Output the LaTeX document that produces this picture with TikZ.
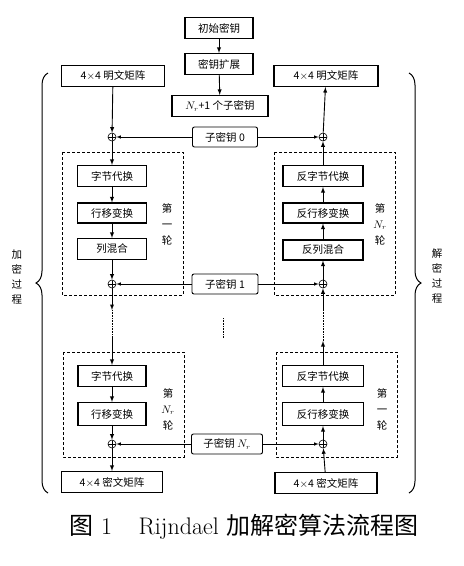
\documentclass[tikz,border=0pt]{standalone}
\usepackage{fontspec}
\newfontfamily\cjk{Noto Sans CJK SC}
\usepackage{tikz}
\usetikzlibrary{shapes}
\usetikzlibrary{decorations,decorations.pathreplacing}
\usetikzlibrary{fit,calc}

\tikzset{
	box/.style={draw, line width=1.1pt, minimum height=21, inner sep=1pt,
		font=\cjk\fontsize{10.5}{12}\selectfont},
	keybox/.style={box, rounded corners=2pt, line width=0.9pt},
	xor/.style={circle, draw, line width=0.6pt, minimum size=8, inner sep=0pt,
		path picture={\draw (path picture bounding box.north) -- (path picture bounding box.south)
			(path picture bounding box.east) -- (path picture bounding box.west);}},
	stage/.style={draw, densely dashed, line width=0.8pt},
	flow/.style={-latex, line width=0.9pt},
	keyline/.style={-latex, line width=0.6pt},
	vlabel/.style={align=center, font=\cjk\fontsize{10.5}{16}\selectfont},
}

\begin{document}
\begin{tikzpicture}[x=1pt,y=-1pt]
\useasboundingbox (0,0) rectangle (464,566);

% key schedule
\node[box, minimum width=68] (init) at (219,28) {初始密钥};
\node[box, minimum width=68] (expand) at (219,64) {密钥扩展};
\node[box, minimum width=96] (subkeys) at (220,106) {$N_r$+1 个子密钥};
\draw[flow] (init) -- (expand);
\draw[flow] (expand) -- (subkeys);

% plain text / cipher text
\node[box, minimum width=103] (plainL) at (113,76) {4$\times$4 明文矩阵};
\node[box, minimum width=104] (plainR) at (326,76) {4$\times$4 明文矩阵};
\node[box, minimum width=101] (cipherL) at (112,482) {4$\times$4 密文矩阵};
\node[box, minimum width=102] (cipherR) at (326,483) {4$\times$4 密文矩阵};

% round keys
\node[keybox, minimum width=65, minimum height=20] (key0) at (225,137) {子密钥 0};
\node[keybox, minimum width=66, minimum height=20] (key1) at (225,284) {子密钥 1};
\node[keybox, minimum width=71, minimum height=20] (keyN) at (227,444) {子密钥 $N_r$};

\foreach \row/\y in {0/137,1/284,N/444} {
	\node[xor] (xorL\row) at (112,\y) {};
	\node[xor] (xorR\row) at (323,\y) {};
	\draw[keyline] (key\row) -- (xorL\row);
	\draw[keyline] (key\row) -- (xorR\row);
}

% rounds
\draw[stage] (62,152) rectangle (183,295);
\draw[stage] (274,152) rectangle (395,295);
\draw[stage] (63,352) rectangle (184,457);
\draw[stage] (276,352) rectangle (397,457);

\node[box, minimum width=69] (subL) at (112,176) {字节代换};
\node[box, minimum width=69, minimum height=20] (shiftL) at (112,213) {行移变换};
\node[box, minimum width=69] (mixL) at (112,249) {列混合};
\node[box, minimum width=68] (subL2) at (112,376) {字节代换};
\node[box, minimum width=68, minimum height=23] (shiftL2) at (112,414) {行移变换};

\node[box, minimum width=80] (isubR) at (323,176) {反字节代换};
\node[box, minimum width=80, minimum height=20] (ishiftR) at (323,213) {反行移变换};
\node[box, minimum width=80, minimum height=20] (imixR) at (323,250) {反列混合};
\node[box, minimum width=81] (isubR2) at (323,376) {反字节代换};
\node[box, minimum width=81, minimum height=23] (ishiftR2) at (323,414) {反行移变换};

\node[vlabel] (roundL1) at (167,224) {第\\一\\轮};
\node[vlabel] (roundR1) at (380,224) {第\\$N_r$\\轮};
\node[vlabel] (roundL2) at (168,409) {第\\$N_r$\\轮};
\node[vlabel] (roundR2) at (382,409) {第\\一\\轮};

% encryption, top to bottom
\coordinate (gapL1) at (112,310);
\coordinate (gapL2) at (112,338);
\foreach \a/\b in {plainL/xorL0, xorL0/subL, subL/shiftL, shiftL/mixL, mixL/xorL1,
	xorL1/gapL1, gapL2/subL2, subL2/shiftL2, shiftL2/xorLN, xorLN/cipherL}
	\draw[flow] (\a) -- (\b);
\draw[densely dotted, line width=0.6pt] (gapL1) -- (gapL2);

% decryption, bottom to top
\coordinate (gapR1) at (323,310);
\coordinate (gapR2) at (323,341);
\foreach \a/\b in {cipherR/xorRN, xorRN/ishiftR2, ishiftR2/isubR2, isubR2/gapR2,
	gapR1/xorR1, xorR1/imixR, imixR/ishiftR, ishiftR/isubR, isubR/xorR0, xorR0/plainR}
	\draw[flow] (\a) -- (\b);
\draw[densely dotted, line width=0.6pt] (gapR2) -- (gapR1);

\coordinate (dotsA) at (223,318);
\coordinate (dotsB) at (223,338);
\draw[densely dotted, line width=0.6pt] (dotsA) -- (dotsB);

% braces
\begin{scope}[decoration={brace,amplitude=12,aspect=0.5}]
	\draw[decorate, line width=1pt] (48,493) -- (48,73);
	\draw[decorate, line width=1pt] (409,73) -- (409,493);
\end{scope}
\node[vlabel, font=\cjk\fontsize{10.5}{15}\selectfont] (enc) at (17,277) {加\\密\\过\\程};
\node[vlabel, font=\cjk\fontsize{10.5}{15}\selectfont] (dec) at (437,276) {解\\密\\过\\程};

% caption
\node[font=\fontsize{24}{27}\selectfont] (caption) at (244,527) {{\cjk 图} 1\hspace{1.1em}Rijndael {\cjk 加解密算法流程图}};
\end{tikzpicture}
\end{document}
